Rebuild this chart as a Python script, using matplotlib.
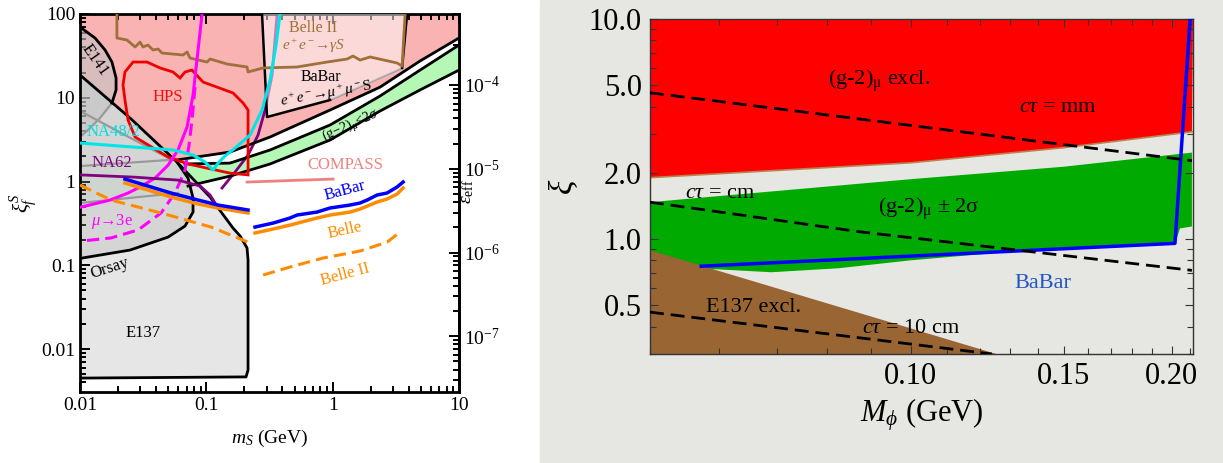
import numpy as np
import matplotlib.pyplot as plt
from matplotlib import ticker
from matplotlib.patches import Rectangle

plt.rcParams['font.family'] = 'Liberation Serif'
plt.rcParams['mathtext.fontset'] = 'custom'
plt.rcParams['mathtext.rm'] = 'Liberation Serif'
plt.rcParams['mathtext.it'] = 'Liberation Serif:italic'
plt.rcParams['mathtext.bf'] = 'Liberation Serif:bold'

# ---------------- left panel: m_S (GeV) vs xi_f^S ----------------
EPS_PER_XI = 7.04e-6      # right axis eps_eff = xi * const
eps_ticks = [1e-7, 1e-6, 1e-5, 1e-4]

diag_x = [0.01, 0.0249, 0.0586, 0.107, 0.1627, 0.185]
diag_y = [18.7, 5.73, 1.71, 0.653, 0.278, 0.224]
e137_edge_x = [0.21, 0.2139, 0.2139, 0.2062, 0.01]
e137_edge_y = [0.161, 0.1155, 0.00561, 0.00465, 0.0045]

orsay_x = [0.0586, 0.0716, 0.0785, 0.0785, 0.0678, 0.0498, 0.0249, 0.0104, 0.01]
orsay_y = [1.71, 1.10, 0.635, 0.432, 0.294, 0.217, 0.152, 0.122, 0.12]

e141_x = [0.01, 0.01315, 0.01578, 0.0179, 0.0193, 0.0193, 0.0179, 0.0144, 0.01157, 0.01]
e141_y = [69.9, 51.7, 37.2, 26.7, 17.2, 12.4, 8.66, 5.73, 4.12, 3.40]

ub_x = [0.0586, 0.154, 0.3195, 0.954, 2.373, 4.92, 10.0]
ub_y = [1.81, 2.25, 3.40, 7.14, 13.4, 27.5, 51.7]
gu_x = [0.01, 0.0678, 0.154, 0.3195, 0.954, 2.373, 4.92, 10.0]
gu_y = [1.53, 1.62, 1.66, 2.38, 4.73, 10.5, 21.4, 42.6]
gl_x = [0.01, 0.0299, 0.0716, 0.154, 0.3195, 0.954, 2.373, 4.92, 10.0]
gl_y = [0.601, 0.690, 0.884, 1.16, 1.62, 3.13, 6.95, 12.4, 21.4]

grey1_x, grey1_y = [0.01, 0.0227, 0.0535], [6.95, 3.59, 1.81]
grey2_x, grey2_y = [0.01, 0.0516], [1.53, 1.81]
grey3_x, grey3_y = [0.01, 0.0597], [0.554, 0.729]

bbox_x = [0.276, 0.3024, 0.954, 3.545, 3.883]
bbox_y = [100, 5.89, 9.40, 22.7, 100]

belle2_x = [0.0196, 0.0196, 0.02356, 0.0273, 0.0299, 0.0315, 0.0345, 0.0378, 0.0415, 0.0446,
            0.0654, 0.0704, 0.0743, 0.1013, 0.107, 0.1458, 0.21, 0.2139, 0.2812, 0.5226,
            0.903, 1.30, 1.45, 1.648, 1.978, 3.235, 3.545, 3.745]
belle2_y = [100, 51.7, 48.9, 40.4, 46.3, 40.4, 42.6, 37.2, 38.2, 34.2,
            32.4, 35.2, 29.8, 26.7, 29.0, 25.3, 23.3, 20.3, 22.7, 23.3,
            26.7, 29.0, 31.5, 28.2, 30.7, 26.0, 23.9, 100]

hps_x = [0.0219, 0.0227, 0.0263, 0.0339, 0.043, 0.0545, 0.0619, 0.0678, 0.077, 0.0942, 0.1215,
         0.1627, 0.1953, 0.2139, 0.2139, 0.154, 0.109, 0.0716, 0.0498, 0.0327, 0.0273, 0.024, 0.0227]
hps_y = [14.2, 20.3, 26.7, 26.7, 22.7, 20.3, 17.2, 20.3, 21.4, 15.4, 13.4,
         11.4, 8.66, 7.14, 1.20, 1.26, 1.41, 1.62, 1.96, 2.88, 3.40, 5.42, 9.40]

mag_x = [0.0925, 0.086, 0.0785, 0.0704, 0.0597, 0.0498, 0.0393, 0.0299, 0.024, 0.0173, 0.01388, 0.0102]
mag_y = [100, 37.2, 10.8, 4.48, 2.38, 1.57, 1.10, 0.86, 0.729, 0.601, 0.554, 0.496]
mu3e_x = [0.0814, 0.077, 0.073, 0.0678, 0.0565, 0.0438, 0.0288, 0.0176, 0.0104]
mu3e_y = [13.4, 5.42, 2.73, 1.37, 0.729, 0.421, 0.264, 0.212, 0.195]

na48_x = [0.01, 0.0263, 0.0545, 0.0785, 0.0976, 0.113, 0.1238, 0.1406, 0.1688, 0.2218, 0.2761, 0.3195, 0.3564, 0.3832]
na48_y = [2.88, 2.58, 2.38, 2.07, 1.71, 1.37, 1.66, 2.02, 2.51, 3.59, 7.14, 16.3, 42.6, 100]

na62a_x = [0.01, 0.0263, 0.0597, 0.0892, 0.107, 0.1172]
na62a_y = [1.20, 1.13, 1.04, 0.884, 0.690, 0.554]
na62b_x = [0.1331, 0.1688, 0.2139, 0.2567, 0.2916, 0.3314, 0.363]
na62b_y = [0.836, 1.30, 2.07, 3.59, 7.14, 18.7, 100]

babar_a_x = [0.0227, 0.0525, 0.086, 0.1238, 0.2139]
babar_a_y = [1.07, 0.729, 0.601, 0.524, 0.457]
babar_b_x = [0.243, 0.3375, 0.46, 0.5226, 0.7526, 0.9537, 1.373, 1.648, 1.873, 2.246, 2.696, 3.235, 3.61]
babar_b_y = [0.286, 0.319, 0.367, 0.398, 0.432, 0.483, 0.524, 0.554, 0.601, 0.690, 0.729, 0.86, 0.986]

belle_a_x = [0.0227, 0.0525, 0.086, 0.1238, 0.2139]
belle_a_y = [0.96, 0.653, 0.539, 0.483, 0.421]
belle_b_x = [0.243, 0.3375, 0.46, 0.7526, 0.9537, 1.373, 1.648, 2.246, 2.696, 3.235, 3.61]
belle_b_y = [0.243, 0.271, 0.302, 0.367, 0.398, 0.432, 0.469, 0.569, 0.618, 0.709, 0.836]

belle2a_x = [0.01, 0.0176, 0.0438, 0.109, 0.2139]
belle2a_y = [0.908, 0.601, 0.421, 0.286, 0.189]
belle2b_x = [0.2812, 0.46, 0.8395, 1.648, 2.696, 3.418]
belle2b_y = [0.0765, 0.0953, 0.122, 0.148, 0.189, 0.249]

compass_x = [0.21, 1.007]
compass_y = [0.986, 1.07]

# ---------------- right panel: M_phi (GeV) vs xi ----------------
red_low_x = [0.05, 0.10, 0.15, 0.211]
red_low_y = [1.90, 2.22, 2.60, 3.07]
grn_up_x = [0.05, 0.10, 0.15, 0.211]
grn_up_y = [1.47, 1.87, 2.13, 2.47]
grn_lo_x = [0.05, 0.0568, 0.069, 0.0825, 0.10, 0.136, 0.2017, 0.2044, 0.211]
grn_lo_y = [0.74, 0.736, 0.706, 0.736, 0.80, 0.888, 0.945, 1.117, 1.14]
e137r_x = [0.05, 0.1255, 0.05]
e137r_y = [0.888, 0.30, 0.30]
babar_r_x = [0.0573, 0.2017, 0.210]
babar_r_y = [0.752, 0.955, 10.0]
ct_mm_x, ct_mm_y = [0.05, 0.211], [4.62, 2.27]
ct_cm_x, ct_cm_y = [0.05, 0.087, 0.211], [1.47, 1.08, 0.72]
ct_10_x, ct_10_y = [0.05, 0.124], [0.465, 0.30]

fig = plt.figure(figsize=(12.23, 4.63), dpi=100)
fig.patches.append(Rectangle((540/1223, 0), 1 - 540/1223, 1, transform=fig.transFigure,
                             color='#e6e6e2', zorder=-10))

# ======== left ========
ax = fig.add_axes([80/1223, 71/463, 379/1223, 378/463])
ax.set_xscale('log'); ax.set_yscale('log')
ax.set_xlim(0.01, 10); ax.set_ylim(0.00307, 100)

pink_x = [0.01, 10] + ub_x[::-1] + diag_x[:2][::-1]
pink_y = [100, 100] + ub_y[::-1] + diag_y[:2][::-1]
ax.fill(pink_x, pink_y, color='#f9b3b3', lw=0, zorder=1)
ax.fill(gu_x + gl_x[::-1], gu_y + gl_y[::-1], color='#b5f7b5', lw=0, zorder=1.2)
ax.fill(diag_x + e137_edge_x, diag_y + e137_edge_y, color='#e3e3e3', alpha=0.88, lw=0, zorder=1.5)
ax.fill(diag_x[:3] + orsay_x, diag_y[:3] + orsay_y, color='#a8a8a8', alpha=0.27, lw=0, zorder=1.6)
ax.fill(e141_x, e141_y, color='#c4c4c4', alpha=0.6, lw=0, zorder=1.7)

for xs, ys in [(grey1_x, grey1_y), (grey2_x, grey2_y), (grey3_x, grey3_y),
               (e141_x[6:], e141_y[6:]), (bbox_x[2:4], bbox_y[2:4])]:
    ax.plot(xs, ys, color='#9a9a9a', lw=1.6, zorder=2.2)

ax.plot(na62b_x, na62b_y, color='#800080', lw=2, zorder=2.5)
ax.fill(bbox_x, bbox_y, color='white', alpha=0.5, lw=0, zorder=2.6)

ax.plot(diag_x + e137_edge_x, diag_y + e137_edge_y, color='k', lw=2, zorder=4)
ax.plot(orsay_x, orsay_y, color='k', lw=2, zorder=4)
ax.plot(e141_x[:7], e141_y[:7], color='k', lw=2, zorder=4)
ax.plot(ub_x, ub_y, color='k', lw=2, zorder=4)
ax.plot(gu_x[1:], gu_y[1:], color='k', lw=2, zorder=4)
ax.plot(gl_x[2:], gl_y[2:], color='k', lw=2, zorder=4)
ax.plot(bbox_x[:3], bbox_y[:3], color='k', lw=1.8, zorder=4)
ax.plot(bbox_x[3:], bbox_y[3:], color='k', lw=1.8, zorder=4)

ax.plot(belle2_x, belle2_y, color='#a0703a', lw=2, zorder=5)
ax.fill(hps_x, hps_y, fill=False, edgecolor='#ee0000', lw=2, zorder=5)
ax.plot(mag_x, mag_y, color='#ff00ff', lw=2.2, zorder=5)
ax.plot(mu3e_x, mu3e_y, color='#ff00ff', lw=2.2, ls=(0, (4, 2)), zorder=5)
ax.plot(na48_x, na48_y, color='#00e5e5', lw=2.2, zorder=5)
ax.plot(na62a_x, na62a_y, color='#800080', lw=2, zorder=5)
ax.plot(belle_a_x, belle_a_y, color='#ff8c00', lw=2.5, zorder=5)
ax.plot(babar_a_x, babar_a_y, color='#0000ff', lw=2.5, zorder=5.1)
ax.plot(belle_b_x, belle_b_y, color='#ff8c00', lw=2.5, zorder=5)
ax.plot(babar_b_x, babar_b_y, color='#0000ff', lw=2.5, zorder=5.1)
ax.plot(belle2a_x, belle2a_y, color='#ff8c00', lw=2.2, ls=(0, (4, 2)), zorder=5)
ax.plot(belle2b_x, belle2b_y, color='#ff8c00', lw=2.2, ls=(0, (4, 2)), zorder=5)
ax.plot(compass_x, compass_y, color='#f08080', lw=2, zorder=5)

tk = dict(ha='center', va='center', zorder=6)
ax.text(0.01315, 28, 'E141', fontsize=12, rotation=-55, **tk)
ax.text(0.0498, 10.2, 'HPS', fontsize=12, color='#ee1111', **tk)
ax.text(0.0183, 3.9, 'NA48/2', fontsize=12, color='#00e0e0', **tk)
ax.text(0.0179, 1.66, 'NA62', fontsize=12, color='#800080', **tk)
ax.text(0.0179, 0.33, r'$\mu$→3e', fontsize=12, color='#ff00ff', **tk)
ax.text(0.0173, 0.093, 'Orsay', fontsize=12, rotation=18, **tk)
ax.text(0.0315, 0.0155, 'E137', fontsize=12, **tk)
ax.text(0.70, 68, 'Belle II', fontsize=11.5, color='#a0703a', **tk)
ax.text(0.70, 42, r'$e^+e^-\!\!\rightarrow\!\gamma S$', fontsize=11, color='#a0703a', **tk)
ax.text(0.80, 17.8, 'BaBar', fontsize=11.5, **tk)
ax.text(0.88, 11.2, r'$e^+e^-\!\!\rightarrow\!\mu^+\mu^-$S', fontsize=11, rotation=10, **tk)
ax.text(1.4, 4.6, r'(g$-$2)$_\mu$<2$\sigma$', fontsize=10, rotation=24, **tk)
ax.text(1.25, 1.57, 'COMPASS', fontsize=12, color='#f08080', **tk)
ax.text(1.25, 0.77, 'BaBar', fontsize=12, color='#0000ff', rotation=15, **tk)
ax.text(1.25, 0.264, 'Belle', fontsize=12, color='#ff8c00', rotation=12, **tk)
ax.text(1.25, 0.0765, 'Belle II', fontsize=12, color='#ff8c00', rotation=15, **tk)

ax.xaxis.set_major_locator(ticker.LogLocator(base=10))
ax.yaxis.set_major_locator(ticker.LogLocator(base=10))
fmt = ticker.FuncFormatter(lambda v, p: f'{v:g}')
ax.xaxis.set_major_formatter(fmt); ax.yaxis.set_major_formatter(fmt)
ax.tick_params(which='both', direction='in', top=True, right=False, labelsize=14, width=1.4)
ax.tick_params(which='major', length=7)
ax.tick_params(which='minor', length=4)
for s in ax.spines.values():
    s.set_linewidth(2)
ax.set_xlabel(r'$m_S$ (GeV)', fontsize=14, labelpad=10)
ax.set_ylabel(r'$\xi_f^S$', fontsize=15, labelpad=2)

sec = ax.secondary_yaxis('right', functions=(lambda v: v * EPS_PER_XI, lambda v: v / EPS_PER_XI))
sec.yaxis.set_major_locator(ticker.FixedLocator(eps_ticks))
sec.yaxis.set_major_formatter(ticker.LogFormatterMathtext())
sec.tick_params(which='both', direction='in', labelsize=14, width=1.4)
sec.tick_params(which='major', length=7)
sec.tick_params(which='minor', length=4)
sec.spines['right'].set_linewidth(2)
sec.set_ylabel(r'$\epsilon_{\rm eff}$', fontsize=14, rotation=90)
sec.yaxis.set_label_coords(1.065, 0.53)

# ======== right ========
bx = fig.add_axes([650/1223, 109/463, 543/1223, 335/463])
bx.set_xscale('log'); bx.set_yscale('log')
bx.set_xlim(0.05, 0.2116); bx.set_ylim(0.30, 10.0)
bx.set_facecolor('none')

bx.fill(red_low_x + [0.2116, 0.05], red_low_y + [10.0, 10.0], color='#ff0000', lw=0, zorder=1)
bx.plot(red_low_x, red_low_y, color='#b98650', lw=1.2, zorder=1.1)
bx.fill(grn_up_x + grn_lo_x[::-1], grn_up_y + grn_lo_y[::-1], color='#00aa00', lw=0, zorder=1)
bx.fill(e137r_x, e137r_y, color='#996633', lw=0, zorder=1.2)
bx.plot(babar_r_x, babar_r_y, color='#0000ff', lw=2.5, zorder=3)
for xs, ys in [(ct_mm_x, ct_mm_y), (ct_cm_x, ct_cm_y), (ct_10_x, ct_10_y)]:
    bx.plot(xs, ys, color='k', lw=2, ls=(0, (5, 2.5)), zorder=4)

rk = dict(ha='center', va='center', fontsize=16, zorder=5)
bx.text(0.0918, 5.24, r'(g-2)$_{\mathrm{μ}}$ excl.', **rk)
bx.text(0.1476, 3.95, r'$c\tau$ = mm', **rk)
bx.text(0.0602, 1.61, r'$c\tau$ = cm', **rk)
bx.text(0.1049, 1.376, r'(g-2)$_{\mathrm{μ}}$ ± 2σ', **rk)
bx.text(0.1418, 0.629, 'BaBar', color='#2255c4', **rk)
bx.text(0.0659, 0.49, 'E137 excl.', **rk)
bx.text(0.100, 0.393, r'$c\tau$ = 10 cm', **rk)

bx.xaxis.set_major_locator(ticker.FixedLocator([0.10, 0.15, 0.20]))
bx.xaxis.set_major_formatter(ticker.FormatStrFormatter('%.2f'))
bx.xaxis.set_minor_locator(ticker.FixedLocator([0.05, 0.06, 0.07, 0.08, 0.09, 0.11, 0.12, 0.13,
                                                 0.14, 0.16, 0.17, 0.18, 0.19, 0.21]))
bx.xaxis.set_minor_formatter(ticker.NullFormatter())
bx.yaxis.set_major_locator(ticker.FixedLocator([0.5, 1.0, 2.0, 5.0, 10.0]))
bx.yaxis.set_major_formatter(ticker.FormatStrFormatter('%.1f'))
bx.yaxis.set_minor_locator(ticker.FixedLocator([0.3, 0.4, 0.6, 0.7, 0.8, 0.9, 3, 4, 6, 7, 8, 9]))
bx.yaxis.set_minor_formatter(ticker.NullFormatter())
bx.tick_params(which='both', direction='in', top=True, right=True, labelsize=22,
               width=0.8, color='#333333', pad=6)
bx.tick_params(which='major', length=6)
bx.tick_params(which='minor', length=4)
for s in bx.spines.values():
    s.set_linewidth(1.0); s.set_color('#333333')
bx.set_xlabel(r'$M_\phi$ (GeV)', fontsize=22, labelpad=4)
bx.set_ylabel(r'$\xi$', fontsize=24, labelpad=6)

fig.savefig('out.png', dpi=100)
